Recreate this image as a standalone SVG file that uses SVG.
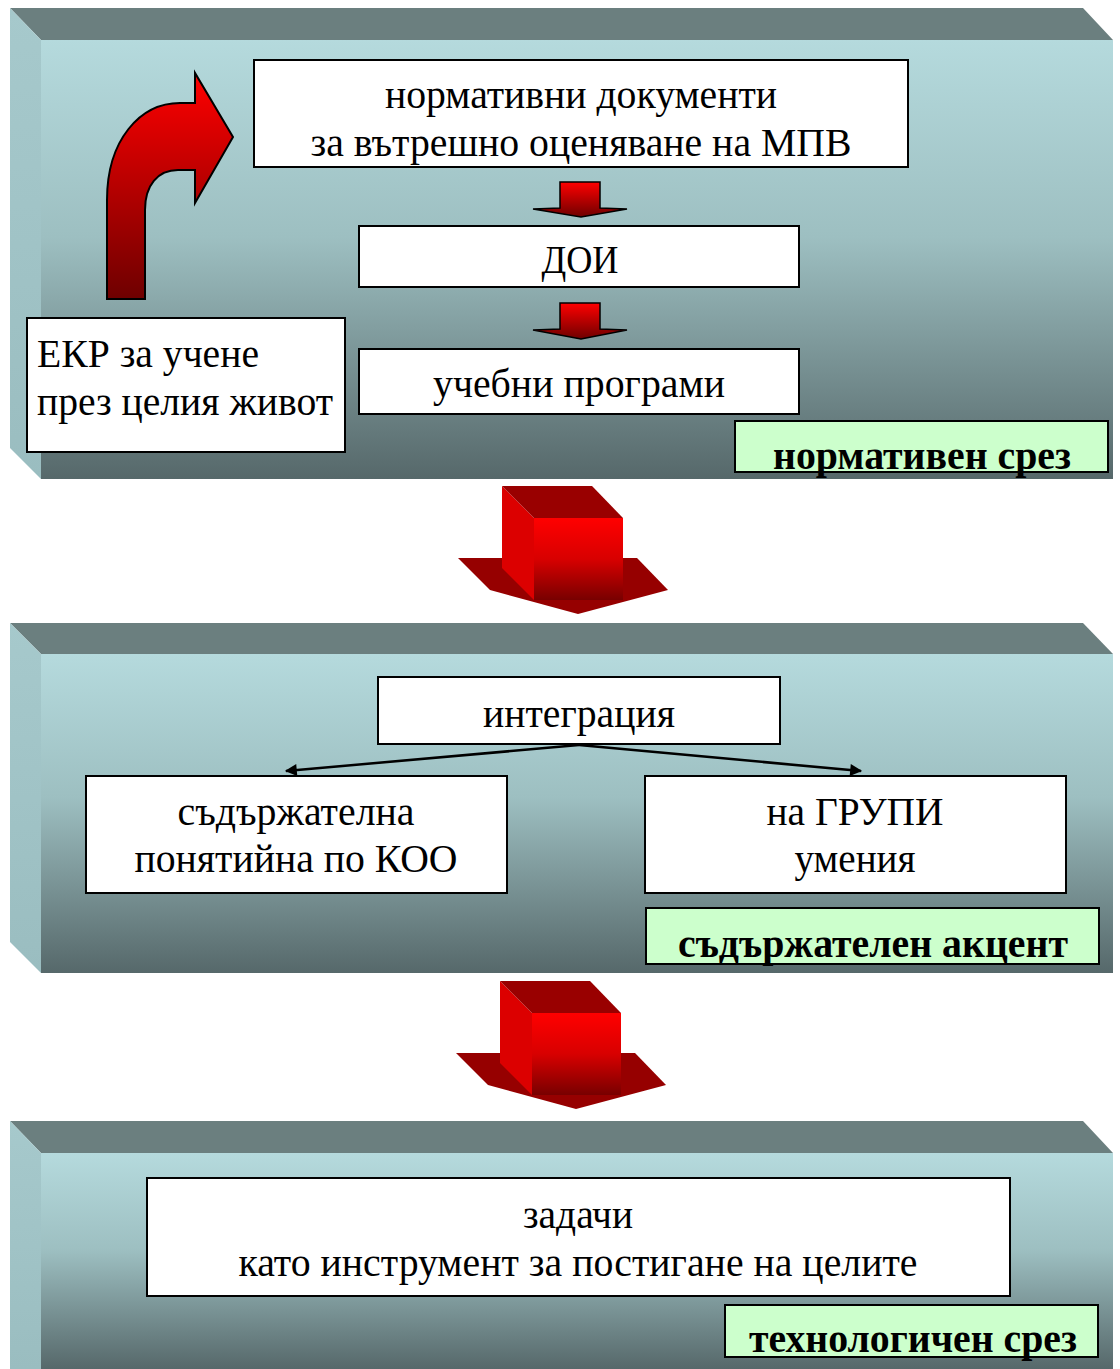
<svg xmlns="http://www.w3.org/2000/svg" width="1120" height="1369" viewBox="0 0 1120 1369">
<defs>
<linearGradient id="front" x1="0" y1="0" x2="0" y2="1">
<stop offset="0" stop-color="#b5dadd"/>
<stop offset="0.45" stop-color="#9dbfc1"/>
<stop offset="1" stop-color="#56686a"/>
</linearGradient>
<linearGradient id="side" x1="0" y1="0" x2="0" y2="1">
<stop offset="0" stop-color="#a6c9cc"/>
<stop offset="1" stop-color="#9abdc0"/>
</linearGradient>
<linearGradient id="red" x1="0" y1="0" x2="0" y2="1">
<stop offset="0" stop-color="#ff0000"/>
<stop offset="1" stop-color="#6e0000"/>
</linearGradient>
<linearGradient id="redfront" x1="0" y1="0" x2="0" y2="1">
<stop offset="0" stop-color="#ff0000"/>
<stop offset="0.5" stop-color="#d80000"/>
<stop offset="1" stop-color="#780000"/>
</linearGradient>
<marker id="ah2" viewBox="0 0 10 10" refX="9" refY="5" markerWidth="16" markerHeight="12" orient="auto" markerUnits="userSpaceOnUse">
<path d="M0,0 L10,5 L0,10 z" fill="#000"/>
</marker>
</defs>
<style>
.top{fill:#6b7f7f}
.side{fill:url(#side)}
.front{fill:url(#front)}
.box{fill:#fff;stroke:#000;stroke-width:2}
.lbl{fill:#ccffcc;stroke:#000;stroke-width:2}
.t{font-family:"Liberation Serif","Times New Roman",serif;font-size:39px;fill:#000;text-anchor:middle}
.tl{font-family:"Liberation Serif","Times New Roman",serif;font-size:39px;fill:#000}
.tb{font-family:"Liberation Serif","Times New Roman",serif;font-size:39px;font-weight:bold;fill:#000;text-anchor:middle}
.conn{stroke:#000;stroke-width:2.5;fill:none}
</style>

<g id="slab1">
<polygon class="top" points="10,8 1083,8 1113,40 41,40"/>
<polygon class="side" points="10,8 41,40 41,479 10,448"/>
<rect class="front" x="41" y="40" width="1072" height="439"/>
</g>
<g id="slab2">
<polygon class="top" points="10,623 1083,623 1113,654 41,654"/>
<polygon class="side" points="10,623 41,654 41,973 10,942"/>
<rect class="front" x="41" y="654" width="1072" height="319"/>
</g>
<g id="slab3">
<polygon class="top" points="10,1121 1083,1121 1113,1153 41,1153"/>
<polygon class="side" points="10,1121 41,1153 41,1369 10,1369"/>
<rect x="41" y="1153" width="1072" height="216" fill="url(#front)"/>
</g>

<g id="curved-arrow">
<path d="M107,299 L107,200 C107,140 140,103 180,103 L195,103 L195,73 L233,137 L195,203 L195,170 L178,170 C158,170 145,185 145,210 L145,299 Z" fill="url(#red)" stroke="#000" stroke-width="2"/>
</g>

<g id="n-normdocs">
<rect class="box" x="254" y="60" width="654" height="107"/>
<text class="t" x="581" y="108" textLength="392" lengthAdjust="spacingAndGlyphs">нормативни документи</text>
<text class="t" x="581" y="156" textLength="541" lengthAdjust="spacingAndGlyphs">за вътрешно оценяване на МПВ</text>
</g>
<g id="small-arrow1">
<polygon points="560,182 600,182 600,208 627,209 581,217 533,209 560,208" fill="url(#red)" stroke="#000" stroke-width="1.5"/>
</g>
<g id="n-doi">
<rect class="box" x="359" y="226" width="440" height="61"/>
<text class="t" x="580" y="273" textLength="77" lengthAdjust="spacingAndGlyphs">ДОИ</text>
</g>
<g id="small-arrow2">
<polygon points="560,303 600,303 600,329 627,330 581,339 533,330 560,329" fill="url(#red)" stroke="#000" stroke-width="1.5"/>
</g>
<g id="n-programs">
<rect class="box" x="359" y="349" width="440" height="65"/>
<text class="t" x="579" y="397" textLength="292" lengthAdjust="spacingAndGlyphs">учебни програми</text>
</g>
<g id="n-ekr">
<rect class="box" x="27" y="318" width="318" height="134"/>
<text class="tl" x="37" y="367" textLength="222" lengthAdjust="spacingAndGlyphs">ЕКР за учене</text>
<text class="tl" x="37" y="415" textLength="296" lengthAdjust="spacingAndGlyphs">през целия живот</text>
</g>
<g id="lbl1">
<rect class="lbl" x="735" y="421" width="373" height="51"/>
<text class="tb" x="922" y="469" textLength="298" lengthAdjust="spacingAndGlyphs">нормативен срез</text>
</g>

<g id="big-arrow1">
<polygon points="458,558 637,558 668,590 578,614 490,590" fill="#960000"/>
<polygon points="502,486 534,518 534,600 502,568" fill="#dc0000"/>
<polygon points="502,486 592,486 623,518 534,518" fill="#990000"/>
<rect x="534" y="518" width="89" height="82" fill="url(#redfront)"/>
</g>

<g id="n-integr">
<rect class="box" x="378" y="677" width="402" height="67"/>
<text class="t" x="579" y="727" textLength="192" lengthAdjust="spacingAndGlyphs">интеграция</text>
</g>
<g id="n-content">
<rect class="box" x="86" y="776" width="421" height="117"/>
<text class="t" x="296" y="825" textLength="237" lengthAdjust="spacingAndGlyphs">съдържателна</text>
<text class="t" x="296" y="872" textLength="323" lengthAdjust="spacingAndGlyphs">понятийна по КОО</text>
</g>
<g id="n-groups">
<rect class="box" x="645" y="776" width="421" height="117"/>
<text class="t" x="855" y="825" textLength="177" lengthAdjust="spacingAndGlyphs">на ГРУПИ</text>
<text class="t" x="855" y="872" textLength="121" lengthAdjust="spacingAndGlyphs">умения</text>
</g>
<g id="lbl2">
<rect class="lbl" x="646" y="908" width="453" height="56"/>
<text class="tb" x="873" y="957" textLength="390" lengthAdjust="spacingAndGlyphs">съдържателен акцент</text>
</g>

<g id="big-arrow2">
<polygon points="456,1053 635,1053 666,1085 576,1109 488,1085" fill="#960000"/>
<polygon points="500,981 532,1013 532,1095 500,1063" fill="#dc0000"/>
<polygon points="500,981 590,981 621,1013 532,1013" fill="#990000"/>
<rect x="532" y="1013" width="89" height="82" fill="url(#redfront)"/>
</g>

<g id="n-tasks">
<rect class="box" x="147" y="1178" width="863" height="118"/>
<text class="t" x="578" y="1228" textLength="110" lengthAdjust="spacingAndGlyphs">задачи</text>
<text class="t" x="578" y="1276" textLength="679" lengthAdjust="spacingAndGlyphs">като инструмент за постигане на целите</text>
</g>
<g id="lbl3">
<rect class="lbl" x="725" y="1305" width="373" height="52"/>
<text class="tb" x="913" y="1352" textLength="328" lengthAdjust="spacingAndGlyphs">технологичен срез</text>
</g>

<g id="connectors">
<line class="conn" x1="579" y1="745" x2="286" y2="771" marker-end="url(#ah2)"/>
<line class="conn" x1="579" y1="745" x2="861" y2="771" marker-end="url(#ah2)"/>
</g>
</svg>
